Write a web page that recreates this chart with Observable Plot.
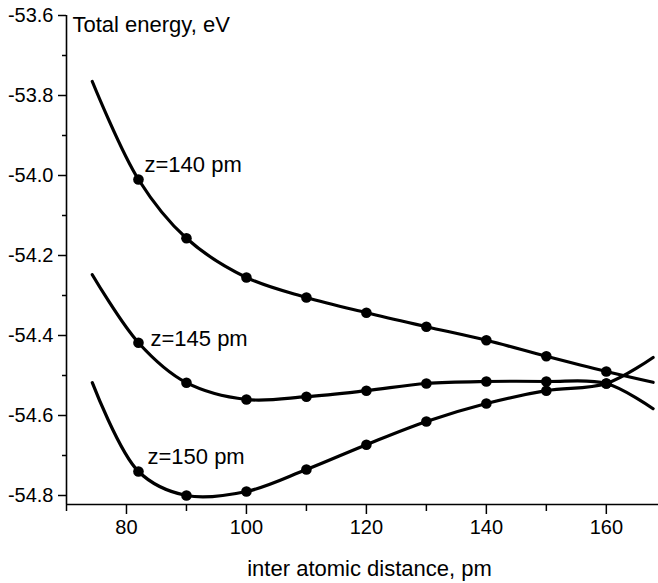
<!DOCTYPE html>
<html>
<head>
<meta charset="utf-8">
<script src="https://cdn.jsdelivr.net/npm/d3@7"></script>
<script src="https://cdn.jsdelivr.net/npm/@observablehq/plot@0.6"></script>
<style>
  html, body { margin: 0; padding: 0; background: #fff; }
  #chart svg { display: block; }
</style>
</head>
<body>
<div id="chart"></div>
<script>
// Measured distances (pm)
const distances = [82, 90, 100, 110, 120, 130, 140, 150, 160];
// Total energy (eV) for each z
const energy140 = [-54.010, -54.157, -54.255, -54.305, -54.343, -54.378, -54.412, -54.452, -54.490];
const energy145 = [-54.418, -54.518, -54.560, -54.553, -54.538, -54.520, -54.515, -54.515, -54.520];
const energy150 = [-54.740, -54.800, -54.790, -54.735, -54.673, -54.615, -54.570, -54.538, -54.520];
// Fitted curve extents (start and end of each drawn curve)
const curveStartX = 74.3, curveEndX = 167.8;
const curveStart = {"140": -53.765, "145": -54.248, "150": -54.518};
const curveEnd = {"140": -54.517, "145": -54.583, "150": -54.455};
const seriesNames = ["140", "145", "150"];
const labelText = ["z=140 pm", "z=145 pm", "z=150 pm"];
const labelX = [83.0, 84.0, 83.5];
const labelY = [-53.974, -54.4075, -54.7025];
// Axis ticks
const yTicks = [-53.6, -53.8, -54.0, -54.2, -54.4, -54.6, -54.8];
const yMinor = [-53.7, -53.9, -54.1, -54.3, -54.5, -54.7];
const xTicks = [80, 100, 120, 140, 160];
const xMinor = [70, 90, 110, 130, 150];

const seriesValues = {"140": energy140, "145": energy145, "150": energy150};
const points = [];
const curves = [];
for (const s of seriesNames) {
  curves.push({s, x: curveStartX, y: curveStart[s]});
  distances.forEach((d, i) => {
    points.push({s, x: d, y: seriesValues[s][i]});
    curves.push({s, x: d, y: seriesValues[s][i]});
  });
  curves.push({s, x: curveEndX, y: curveEnd[s]});
}
const labels = labelText.map((t, i) => ({t, x: labelX[i], y: labelY[i]}));

const font = "'Liberation Sans', Arial, sans-serif";

const chart = Plot.plot({
  width: 658,
  height: 583,
  marginLeft: 66,
  marginRight: 0,
  marginTop: 15,
  marginBottom: 79,
  style: {fontFamily: font, fontSize: "20px", color: "#000", background: "#fff"},
  x: {domain: [70, 168.7]},
  y: {domain: [-54.8225, -53.6]},
  marks: [
    Plot.ruleX([70], {stroke: "#000", strokeWidth: 1.6}),
    Plot.ruleY([-54.8225], {stroke: "#000", strokeWidth: 1.6}),
    Plot.axisY({ticks: yTicks, tickSize: 8, tickPadding: 5, tickFormat: d => d.toFixed(1), label: null, fontSize: 20, strokeWidth: 1.5}),
    Plot.axisY({ticks: yMinor, tickSize: 4, tickFormat: () => "", label: null, strokeWidth: 1.5}),
    Plot.axisX({ticks: xTicks, tickSize: 10, tickPadding: 5, tickFormat: d => String(d), label: null, fontSize: 20, strokeWidth: 1.5}),
    Plot.axisX({ticks: xMinor, tickSize: 7, tickFormat: () => "", label: null, strokeWidth: 1.5}),
    Plot.line(curves, {x: "x", y: "y", z: "s", curve: "catmull-rom", stroke: "#000", strokeWidth: 3.2}),
    Plot.dot(points, {x: "x", y: "y", r: 5.3, fill: "#000", stroke: "none"}),
    Plot.text(labels, {x: "x", y: "y", text: "t", textAnchor: "start", lineAnchor: "middle", fontSize: 22, fill: "#000"}),
    Plot.text(["Total energy, eV"], {frameAnchor: "top-left", dx: 6, dy: 1, lineAnchor: "top", textAnchor: "start", fontSize: 22, fill: "#000"}),
    Plot.text(["inter atomic distance, pm"], {frameAnchor: "bottom", dx: 7, dy: 64, lineAnchor: "middle", fontSize: 22, fill: "#000"})
  ]
});
document.getElementById("chart").appendChild(chart);
</script>
</body>
</html>
